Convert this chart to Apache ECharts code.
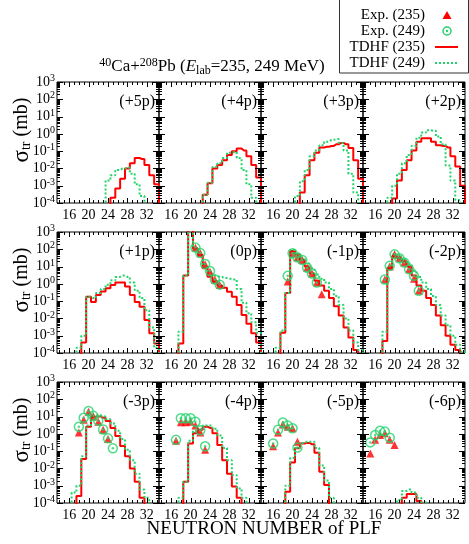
<!DOCTYPE html>
<html><head><meta charset="utf-8">
<script src="https://cdn.jsdelivr.net/npm/echarts@6/dist/echarts.min.js"></script>
<style>html,body{margin:0;padding:0;background:#fff}#c{width:469px;height:544px}</style>
</head><body><div id="c"></div>
<script>
// ---------------- data ----------------
const PANEL_LABELS = ['(+5p)','(+4p)','(+3p)','(+2p)','(+1p)','(0p)','(-1p)','(-2p)','(-3p)','(-4p)','(-5p)','(-6p)'];
const X_TICKS = [16, 20, 24, 28, 32];
const X_MINOR = [14,15,17,18,19,21,22,23,25,26,27,29,30,31,33,34];
const Y_DECADES = [1e-4, 1e-3, 1e-2, 1e-1, 1, 10, 100, 1000];

// TDHF histograms: first neutron number, then cross sections (mb) for consecutive N
const tdhf235_p5_N0 = 25; const tdhf235_p5 = [2e-4, 7e-4, 2.5e-3, 1e-2, 2e-2, 4e-2, 3.5e-2, 1.6e-2, 4e-3, 1.2e-3];
const tdhf249_p5_N0 = 24; const tdhf249_p5 = [2e-3, 4e-3, 8e-3, 1e-2, 1.1e-2, 5e-3, 1.2e-3, 2.5e-4];

const tdhf235_p4_N0 = 23; const tdhf235_p4 = [3e-4, 1.4e-3, 1e-2, 1.6e-2, 3e-2, 6e-2, 1e-1, 1.4e-1, 1.1e-1, 5e-2, 1.6e-2, 3e-3];
const tdhf249_p4_N0 = 23; const tdhf249_p4 = [3e-4, 1.5e-3, 1.2e-2, 2e-2, 4e-2, 8e-2, 9e-2, 4e-2, 8e-3, 1.2e-3, 2e-4];

const tdhf235_p3_N0 = 22; const tdhf235_p3 = [4e-4, 4e-3, 3e-2, 8e-2, 1.6e-1, 1.8e-1, 2e-1, 2.5e-1, 3e-1, 2.5e-1, 1.5e-1, 3e-2, 2.5e-3];
const tdhf249_p3_N0 = 21; const tdhf249_p3 = [2.5e-4, 1.8e-3, 8e-3, 5e-2, 1.1e-1, 2.2e-1, 3.5e-1, 4.5e-1, 5e-1, 3e-1, 1.1e-1, 5e-3, 4e-4];

const tdhf235_p2_N0 = 20; const tdhf235_p2 = [1.8e-4, 2e-3, 8e-3, 3e-2, 1.1e-1, 3.5e-1, 5.5e-1, 5.5e-1, 3.5e-1, 2.2e-1, 2e-1, 1.6e-1, 5e-2, 1.3e-2, 1e-3];
const tdhf249_p2_N0 = 19; const tdhf249_p2 = [2e-4, 1e-3, 5e-3, 2e-2, 6e-2, 2e-1, 6e-1, 1.2, 1.6, 1.5, 7e-1, 2.5e-1, 1.5e-2, 2e-3, 1.5e-4];

const tdhf235_p1_N0 = 19; const tdhf235_p1 = [4e-4, 1.8e-1, 9e-2, 2.3e-1, 3.6e-1, 5.5e-1, 8.5e-1, 1.2, 1.2, 7e-1, 2.3e-1, 9e-2, 4.8e-2, 8e-3, 1.4e-3, 3.6e-4];
const tdhf249_p1_N0 = 18; const tdhf249_p1 = [2e-4, 1e-3, 1.8e-1, 1.5e-1, 3e-1, 5e-1, 9e-1, 1.6, 2.5, 3, 2.5, 1.2, 4e-1, 1.5e-1, 3e-2, 3e-3, 2e-4];

const tdhf235_0_N0 = 18; const tdhf235_0 = [3.5e-4, 3, 5000, 110, 47, 8, 2.6, 1.35, 0.8, 0.6, 0.35, 0.18, 0.06, 0.016, 5e-3, 1.4e-3, 4e-4];
const tdhf249_0_N0 = 18; const tdhf249_0 = [1.7e-3, 3, 5000, 110, 50, 12, 5, 3, 2.5, 2.2, 2, 1.8, 0.5, 0.08, 0.02, 6e-3, 1.5e-3];

const tdhf235_m1_N0 = 18; const tdhf235_m1 = [1.5e-3, 0.3, 80, 50, 25, 10, 4, 1.5, 0.8, 0.4, 0.15, 0.05, 0.015, 3e-3, 8e-4, 1.5e-4];
const tdhf249_m1_N0 = 17; const tdhf249_m1 = [2e-4, 2e-3, 0.3, 90, 55, 30, 15, 8, 3.5, 2, 1.2, 0.5, 0.2, 0.06, 0.01, 2e-3, 4e-4, 1.5e-4];

const tdhf235_m2_N0 = 18; const tdhf235_m2 = [5e-4, 8, 40, 30, 20, 10, 3, 0.8, 0.4, 0.15, 0.06, 0.015, 4e-3, 1e-3, 3e-4, 1.5e-4];
const tdhf249_m2_N0 = 18; const tdhf249_m2 = [1.7e-3, 10, 50, 40, 25, 15, 6, 2.5, 1.2, 0.5, 0.2, 0.06, 0.015, 4e-3, 1e-3, 3e-4, 1.2e-4];

const tdhf235_m3_N0 = 18; const tdhf235_m3 = [2.5e-4, 0.035, 2.6, 9.8, 10, 8.5, 5.5, 2.2, 0.75, 0.2, 0.05, 0.01, 1.7e-3, 2e-4];
const tdhf249_m3_N0 = 17; const tdhf249_m3 = [4e-4, 1e-3, 0.05, 3, 12, 12, 10, 7, 4, 1.5, 0.5, 0.12, 0.03, 5e-3, 6e-4, 2e-4];

const tdhf235_m4_N0 = 19; const tdhf235_m4 = [1.7e-3, 0.28, 1.1, 1.7, 2.6, 2.2, 1.1, 0.23, 0.03, 5e-3, 9e-4, 2e-4];
const tdhf249_m4_N0 = 18; const tdhf249_m4 = [2e-4, 1.7e-3, 0.4, 1.4, 2, 3, 3, 2, 0.8, 0.15, 0.03, 4e-3, 7e-4, 2e-4];

const tdhf235_m5_N0 = 19; const tdhf235_m5 = [4.5e-4, 0.022, 0.145, 0.28, 0.3, 0.25, 0.08, 6.5e-3, 1.1e-3];
const tdhf249_m5_N0 = 19; const tdhf249_m5 = [1e-3, 0.04, 0.15, 0.3, 0.35, 0.35, 0.15, 0.015, 2e-3, 2e-4];

const tdhf235_m6_N0 = 22; const tdhf235_m6 = [2e-4, 3.3e-4, 3.3e-4, 1.3e-4];
const tdhf249_m6_N0 = 21; const tdhf249_m6 = [1.5e-4, 5e-4, 6e-4, 4e-4, 2e-4, 1.1e-4];

// Experimental points: first neutron number, then cross sections (mb)
const exp235_0_N0 = 21;  const exp235_0  = [123, 59, 13.5, 5.1, 1.7, 0.85];
const exp249_0_N0 = 21;  const exp249_0  = [125, 60, 14, 5.5, 1.8, 0.9];
const exp235_m1_N0 = 19; const exp235_m1 = [1.35, 59, 34, 24, 8.6, 4, 1.2, 0.25];
const exp249_m1_N0 = 19; const exp249_m1 = [2.9, 59, 34, 24, 8.6, 4, 1.2];
const exp235_m2_N0 = 18; const exp235_m2 = [1.8, 10, 51, 30, 17, 7, 2, 0.4];
const exp249_m2_N0 = 18; const exp249_m2 = [1.8, 11, 51, 30, 17, 7, 2.9, 0.4];
const exp235_m3_N0 = 18; const exp235_m3 = [1.2, 6.5, 19, 10, 5, 1.7, 0.5];
const exp249_m3_N0 = 18; const exp249_m3 = [2.6, 8.5, 21, 11, 5.8, 1.8, 0.55, 0.145];
const exp235_m4_N0 = 17; const exp235_m4 = [0.4, 4.7, 4.7, 5, 3, 1.2, 0.12];
const exp249_m4_N0 = 17; const exp249_m4 = [0.45, 8, 8, 8, 5, 1.6, 0.19];
const exp235_m5_N0 = 16; const exp235_m5 = [0.19, 1.2, 3.5, 2.6, 2.1, 0.35];
const exp249_m5_N0 = 16; const exp249_m5 = [0.28, 1.7, 4.5, 3, 2.1, 0.16];
const exp235_m6_N0 = 15; const exp235_m6 = [0.074, 0.45, 0.85, 1.1, 0.45, 0.23];
const exp249_m6_N0 = 15; const exp249_m6 = [0.32, 0.85, 1.5, 1.35, 0.6];

// ---------------- assembly ----------------
const TDHF235 = [[tdhf235_p5_N0,tdhf235_p5],[tdhf235_p4_N0,tdhf235_p4],[tdhf235_p3_N0,tdhf235_p3],[tdhf235_p2_N0,tdhf235_p2],
  [tdhf235_p1_N0,tdhf235_p1],[tdhf235_0_N0,tdhf235_0],[tdhf235_m1_N0,tdhf235_m1],[tdhf235_m2_N0,tdhf235_m2],
  [tdhf235_m3_N0,tdhf235_m3],[tdhf235_m4_N0,tdhf235_m4],[tdhf235_m5_N0,tdhf235_m5],[tdhf235_m6_N0,tdhf235_m6]];
const TDHF249 = [[tdhf249_p5_N0,tdhf249_p5],[tdhf249_p4_N0,tdhf249_p4],[tdhf249_p3_N0,tdhf249_p3],[tdhf249_p2_N0,tdhf249_p2],
  [tdhf249_p1_N0,tdhf249_p1],[tdhf249_0_N0,tdhf249_0],[tdhf249_m1_N0,tdhf249_m1],[tdhf249_m2_N0,tdhf249_m2],
  [tdhf249_m3_N0,tdhf249_m3],[tdhf249_m4_N0,tdhf249_m4],[tdhf249_m5_N0,tdhf249_m5],[tdhf249_m6_N0,tdhf249_m6]];
const EXP235 = [null,null,null,null,null,[exp235_0_N0,exp235_0],[exp235_m1_N0,exp235_m1],[exp235_m2_N0,exp235_m2],
  [exp235_m3_N0,exp235_m3],[exp235_m4_N0,exp235_m4],[exp235_m5_N0,exp235_m5],[exp235_m6_N0,exp235_m6]];
const EXP249 = [null,null,null,null,null,[exp249_0_N0,exp249_0],[exp249_m1_N0,exp249_m1],[exp249_m2_N0,exp249_m2],
  [exp249_m3_N0,exp249_m3],[exp249_m4_N0,exp249_m4],[exp249_m5_N0,exp249_m5],[exp249_m6_N0,exp249_m6]];

const XMIN = 13.5, XMAX = 34.5;
const FLOOR = 1e-8;
const RED = '#ff0000', GREEN = '#22d36a';
const FONT = '"Liberation Serif","Times New Roman",serif';
const COL_LEFT = [57, 159, 261, 363], ROW_TOP = [82, 232, 382], GW = 102, GH = 121;

function hist(n0, vals) {
  const d = [[n0 - 1, FLOOR]];
  vals.forEach((v, i) => d.push([n0 + i, v]));
  d.push([n0 + vals.length, FLOOR]);
  return d;
}
function pts(n0, vals) { return vals.map((v, i) => [n0 + i, v]); }

// tick positions (value, tick length)
const Y_TICK_DATA = [];
Y_DECADES.forEach(v => Y_TICK_DATA.push([XMIN, v, 6]));
for (let e = -4; e < 3; e++) for (let k = 2; k <= 9; k++) Y_TICK_DATA.push([XMIN, k * Math.pow(10, e), 3]);
const X_TICK_DATA = X_TICKS.map(n => [n, 1, 5]).concat(X_MINOR.map(n => [n, 1, 3]));

function yTickItem(params, api) {
  const cs = params.coordSys;
  const y = Math.round(api.coord([api.value(0), api.value(1)])[1]) + 0.5;
  const len = api.value(2);
  const st = {stroke: '#000', lineWidth: 1};
  return {type: 'group', children: [
    {type: 'line', shape: {x1: cs.x, y1: y, x2: cs.x + len, y2: y}, style: st},
    {type: 'line', shape: {x1: cs.x + cs.width - len, y1: y, x2: cs.x + cs.width, y2: y}, style: st}]};
}
function xTickItem(params, api) {
  const cs = params.coordSys;
  const x = Math.round(api.coord([api.value(0), api.value(1)])[0]) + 0.5;
  const len = api.value(2);
  const st = {stroke: '#000', lineWidth: 1};
  return {type: 'group', children: [
    {type: 'line', shape: {x1: x, y1: cs.y + cs.height - len, x2: x, y2: cs.y + cs.height}, style: st},
    {type: 'line', shape: {x1: x, y1: cs.y, x2: x, y2: cs.y + len}, style: st}]};
}

const grid = [], xAxis = [], yAxis = [], series = [], graphic = [];
for (let i = 0; i < 12; i++) {
  const r = Math.floor(i / 4), c = i % 4;
  grid.push({left: COL_LEFT[c], top: ROW_TOP[r], width: GW, height: GH, show: true,
    borderColor: '#000', borderWidth: 1, backgroundColor: 'transparent'});
  xAxis.push({gridIndex: i, type: 'value', min: XMIN, max: XMAX, position: 'bottom',
    axisLine: {show: false, onZero: false}, splitLine: {show: false}, axisTick: {show: false},
    axisLabel: {show: true, customValues: X_TICKS, fontFamily: FONT, fontSize: 14, color: '#000', margin: 5}});
  yAxis.push({gridIndex: i, type: 'log', logBase: 10, min: 1e-4, max: 1e3, position: 'left',
    axisLine: {show: false, onZero: false}, splitLine: {show: false}, axisTick: {show: false}, minorTick: {show: false},
    axisLabel: {show: false}});
  yAxis.push({gridIndex: i, type: 'value', min: -4, max: 3, interval: 1, position: 'left',
    axisLine: {show: false, onZero: false}, splitLine: {show: false}, axisTick: {show: false},
    axisLabel: {show: c === 0, fontFamily: FONT, fontSize: 14, color: '#000', margin: 2,
      formatter: v => '10{s|' + v + '}',
      rich: {s: {fontFamily: FONT, fontSize: 10, verticalAlign: 'top', padding: [0, 0, 7, 0]}}}});

  const xi = i, yi = 2 * i;
  series.push({type: 'custom', xAxisIndex: xi, yAxisIndex: yi, renderItem: yTickItem, data: Y_TICK_DATA, clip: false, silent: true, z: 6});
  series.push({type: 'custom', xAxisIndex: xi, yAxisIndex: yi, renderItem: xTickItem, data: X_TICK_DATA, clip: false, silent: true, z: 6});
  series.push({type: 'line', xAxisIndex: xi, yAxisIndex: yi, step: 'middle', showSymbol: false, clip: true,
    data: hist(TDHF235[i][0], TDHF235[i][1]), lineStyle: {color: RED, width: 2}, z: 2, silent: true});
  series.push({type: 'line', xAxisIndex: xi, yAxisIndex: yi, step: 'middle', showSymbol: false, clip: true,
    data: hist(TDHF249[i][0], TDHF249[i][1]), lineStyle: {color: GREEN, width: 2, type: [2, 2]}, z: 3, silent: true});
  if (EXP235[i]) series.push({type: 'scatter', xAxisIndex: xi, yAxisIndex: yi, symbol: 'triangle', symbolSize: 8,
    data: pts(EXP235[i][0], EXP235[i][1]), itemStyle: {color: RED}, z: 4, silent: true});
  if (EXP249[i]) {
    series.push({type: 'scatter', xAxisIndex: xi, yAxisIndex: yi, symbol: 'circle', symbolSize: 9,
      data: pts(EXP249[i][0], EXP249[i][1]), itemStyle: {color: 'rgba(0,0,0,0)', borderColor: GREEN, borderWidth: 1.5}, z: 5, silent: true});
    series.push({type: 'scatter', xAxisIndex: xi, yAxisIndex: yi, symbol: 'circle', symbolSize: 2.5,
      data: pts(EXP249[i][0], EXP249[i][1]), itemStyle: {color: GREEN}, z: 5, silent: true});
  }
  graphic.push({type: 'text', x: COL_LEFT[c] + GW - 4, y: ROW_TOP[r] + 20,
    style: {text: PANEL_LABELS[i], font: '16px ' + FONT, fill: '#000', textAlign: 'right', textVerticalAlign: 'middle'}});
}

// y-axis titles
for (let r = 0; r < 3; r++) {
  graphic.push({type: 'text', x: 22, y: ROW_TOP[r] + 48, rotation: Math.PI / 2,
    style: {text: '{g|σ}{t|tr}{m| (mb)}', textAlign: 'center', textVerticalAlign: 'middle',
      rich: {g: {font: '23px ' + FONT, fill: '#000'}, t: {font: '14px ' + FONT, fill: '#000', verticalAlign: 'bottom', padding: [8, 0, 0, 0]},
        m: {font: '20px ' + FONT, fill: '#000'}}}});
}
// main title
graphic.push({type: 'text', x: 212, y: 67,
  style: {text: '{s|40}{n|Ca+}{s|208}{n|Pb (}{i|E}{b|lab}{n|=235, 249 MeV)}', textAlign: 'center', textVerticalAlign: 'middle',
    rich: {n: {font: '17px ' + FONT, fill: '#000'}, i: {font: 'italic 17px ' + FONT, fill: '#000'},
      s: {font: '12px ' + FONT, fill: '#000', verticalAlign: 'top', padding: [0, 0, 8, 0]},
      b: {font: '12px ' + FONT, fill: '#000', verticalAlign: 'bottom', padding: [6, 0, 0, 0]}}}});
// x title
graphic.push({type: 'text', x: 264, y: 529,
  style: {text: 'NEUTRON NUMBER of PLF', font: '19px ' + FONT, fill: '#000', textAlign: 'center', textVerticalAlign: 'middle'}});
// legend
graphic.push({type: 'rect', shape: {x: 339.5, y: -1, width: 129, height: 74}, style: {fill: '#fff', stroke: '#333', lineWidth: 1}, z: 10});
const LEG = ['Exp. (235)', 'Exp. (249)', 'TDHF (235)', 'TDHF (249)'];
LEG.forEach((t, k) => graphic.push({type: 'text', x: 425, y: 15 + 16 * k, z: 11,
  style: {text: t, font: '15px ' + FONT, fill: '#000', textAlign: 'right', textVerticalAlign: 'middle'}}));
graphic.push({type: 'polygon', z: 11, shape: {points: [[447, 11], [451.5, 19], [442.5, 19]]}, style: {fill: RED}});
graphic.push({type: 'circle', z: 11, shape: {cx: 447, cy: 31, r: 4}, style: {fill: 'none', stroke: GREEN, lineWidth: 1.5}});
graphic.push({type: 'circle', z: 11, shape: {cx: 447, cy: 31, r: 1.2}, style: {fill: GREEN}});
graphic.push({type: 'line', z: 11, shape: {x1: 435, y1: 47, x2: 458, y2: 47}, style: {stroke: RED, lineWidth: 2}});
graphic.push({type: 'line', z: 11, shape: {x1: 435, y1: 63, x2: 458, y2: 63}, style: {stroke: GREEN, lineWidth: 2, lineDash: [2, 2]}});

const chart = echarts.init(document.getElementById('c'), null, {renderer: 'canvas'});
chart.setOption({animation: false, backgroundColor: '#fff', grid, xAxis, yAxis, series, graphic});
</script></body></html>
